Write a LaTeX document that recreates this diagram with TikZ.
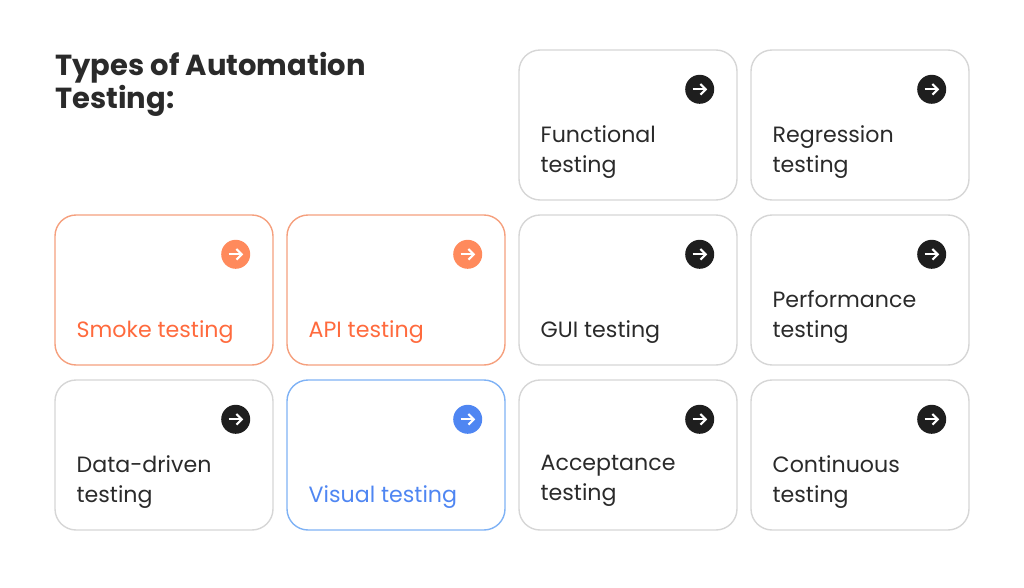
\documentclass[tikz,border=0pt]{standalone}
\usepackage{fontspec}
\setmainfont{Poppins}
\usetikzlibrary{arrows.meta}
\definecolor{cardline}{HTML}{D6D6D6}
\definecolor{ink}{HTML}{2A2A2A}
\definecolor{dot}{HTML}{1E1E1E}
\definecolor{smoke}{HTML}{FF6A3D}
\definecolor{smokeline}{HTML}{F5A07E}
\definecolor{smokedot}{HTML}{FF8A5C}
\definecolor{vis}{HTML}{4F86F2}
\definecolor{visline}{HTML}{7FB2F5}
\begin{document}
\begin{tikzpicture}[x=0.02cm,y=-0.02cm,
  card/.style={draw=cardline,line width=0.8pt,rounded corners=12,minimum width=218*0.02cm,minimum height=150*0.02cm,inner sep=0pt},
  label/.style={anchor=north west,align=left,text=ink,font=\fontsize{12.6}{17}\selectfont,inner sep=0pt},
  dotn/.style={circle,fill=dot,minimum size=29*0.02cm,inner sep=0pt},
  arr/.style={white,line width=1.2pt,-{Straight Barb[length=3pt,width=6pt]}}]
\useasboundingbox (0,0) rectangle (1024,588);
\node[anchor=north west,align=left,font=\fontsize{16.5}{17.5}\bfseries\selectfont,text=ink,inner sep=0pt] (title) at (55,52) {Types of Automation\\Testing:};
% cards: name/col/row/text/style/drop
\foreach \n/\c/\r/\t/\s/\d in {func/2/0/{Functional\\testing}/0/0, regr/3/0/{Regression\\testing}/0/0,
  smoke/0/1/{Smoke testing}/1/30, api/1/1/{API testing}/1/30, gui/2/1/{GUI testing}/0/30, perf/3/1/{Performance\\testing}/0/0,
  data/0/2/{Data-driven\\testing}/0/0, visual/1/2/{Visual testing}/2/30, acc/2/2/{Acceptance\\testing}/0/0, cont/3/2/{Continuous\\testing}/0/0}{
  \ifcase\s
    \node[card] (\n) at ({164+232*\c},{125+165*\r}) {};
    \node[dotn] (\n-dot) at ([xshift=-38*0.02cm,yshift=-40*0.02cm]\n.north east) {};
    \node[label] (\n-txt) at ([xshift=22*0.02cm,yshift=-(76+\d)*0.02cm]\n.north west) {\t};
  \or
    \node[card,draw=smokeline] (\n) at ({164+232*\c},{125+165*\r}) {};
    \node[dotn,fill=smokedot] (\n-dot) at ([xshift=-38*0.02cm,yshift=-40*0.02cm]\n.north east) {};
    \node[label,text=smoke] (\n-txt) at ([xshift=22*0.02cm,yshift=-(76+\d)*0.02cm]\n.north west) {\t};
  \or
    \node[card,draw=visline] (\n) at ({164+232*\c},{125+165*\r}) {};
    \node[dotn,fill=vis] (\n-dot) at ([xshift=-38*0.02cm,yshift=-40*0.02cm]\n.north east) {};
    \node[label,text=vis] (\n-txt) at ([xshift=22*0.02cm,yshift=-(76+\d)*0.02cm]\n.north west) {\t};
  \fi
  \draw[arr] ([xshift=-7*0.02cm]\n-dot.center) -- ([xshift=7.5*0.02cm]\n-dot.center);
}
\end{tikzpicture}
\end{document}
